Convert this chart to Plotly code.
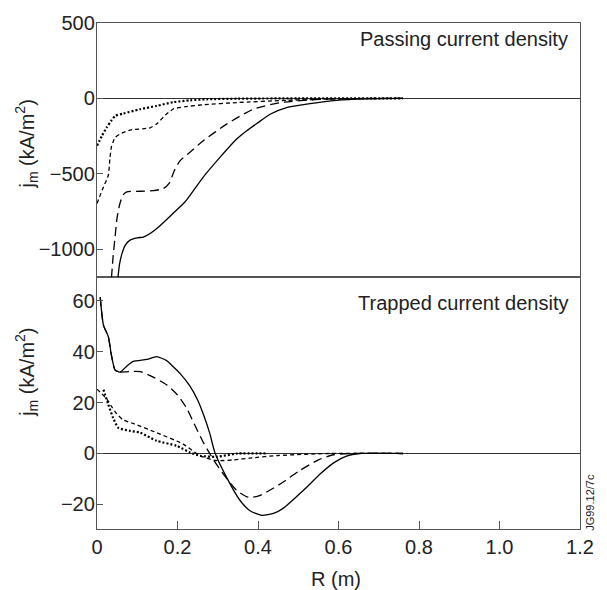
import plotly.graph_objects as go

# ---------------- data ----------------
# Passing current density (top panel), kA/m^2
pass_solid_r = [0.052, 0.056, 0.062, 0.070, 0.082, 0.100, 0.115, 0.130, 0.150, 0.190, 0.219, 0.264, 0.306,
                0.347, 0.372, 0.397, 0.430, 0.471, 0.529, 0.595, 0.661, 0.76]
pass_solid_j = [-1190, -1100, -1030, -975, -940, -925, -920, -900, -860, -760, -686, -522, -390,
                -270, -215, -167, -105, -61, -35, -13, -3, 0]

pass_ldash_r = [0.036, 0.040, 0.045, 0.050, 0.057, 0.065, 0.074, 0.107, 0.140, 0.165, 0.180, 0.192, 0.206,
                0.231, 0.264, 0.322, 0.388, 0.455, 0.554, 0.650, 0.76]
pass_ldash_j = [-1190, -1050, -917, -790, -697, -640, -620, -616, -612, -598, -560, -480, -415,
                -357, -281, -171, -72, -28, -7, -1, 0]

pass_sdash_r = [0.0, 0.016, 0.028, 0.032, 0.036, 0.045, 0.057, 0.082, 0.132, 0.150, 0.170, 0.190, 0.220,
                0.264, 0.347, 0.471, 0.600, 0.76]
pass_sdash_j = [-697, -588, -511, -400, -320, -260, -237, -210, -195, -165, -110, -70, -55,
                -42, -28, -13, -3, 0]

pass_dot_r = [0.0, 0.012, 0.024, 0.035, 0.045, 0.065, 0.107, 0.148, 0.190, 0.231, 0.272, 0.350, 0.500, 0.76]
pass_dot_j = [-314, -250, -193, -150, -116, -101, -72, -50, -25, -13, -6, -2, 0, 0]

# Trapped current density (bottom panel), kA/m^2
trap_solid_r = [0.008, 0.016, 0.028, 0.036, 0.045, 0.057, 0.075, 0.090, 0.124, 0.148, 0.173, 0.190, 0.206,
                0.231, 0.250, 0.264, 0.280, 0.293, 0.322, 0.355, 0.380, 0.409, 0.440, 0.463, 0.490,
                0.521, 0.555, 0.587, 0.620, 0.653, 0.76]
trap_solid_j = [61.5, 50.5, 46.0, 38.5, 32.8, 32.0, 34.5, 36.2, 37.0, 38.1, 36.5, 34.0, 31.5,
                26.5, 21.0, 15.5, 8.0, 0.3, -9.4, -18.4, -22.5, -24.3, -23.5, -21.5, -17.8,
                -13.3, -8.0, -3.8, -1.0, 0.0, 0.0]

trap_ldash_r = [0.057, 0.080, 0.107, 0.140, 0.173, 0.200, 0.222, 0.245, 0.262, 0.280, 0.300, 0.322, 0.347,
                0.376, 0.400, 0.421, 0.460, 0.504, 0.550, 0.587, 0.630, 0.76]
trap_ldash_j = [32.0, 32.2, 32.2, 30.0, 27.0, 23.0, 18.0, 10.5, 5.0, 0.0, -5.0, -9.8, -14.5,
                -17.2, -16.8, -15.2, -11.5, -6.7, -2.5, -0.5, 0.0, 0.0]

trap_sdash_r = [0.0, 0.012, 0.024, 0.036, 0.049, 0.065, 0.090, 0.148, 0.214, 0.256, 0.297, 0.340, 0.380,
                0.450, 0.580, 0.76]
trap_sdash_j = [25.3, 23.5, 21.5, 18.5, 15.6, 13.2, 11.8, 8.2, 3.7, -0.9, -2.8, -2.5, -1.8,
                -0.8, 0.0, 0.0]

trap_dot_r = [0.016, 0.028, 0.040, 0.053, 0.082, 0.107, 0.148, 0.198, 0.231, 0.256, 0.297, 0.350, 0.42]
trap_dot_j = [25.1, 19.3, 14.0, 10.1, 8.9, 8.2, 5.0, 3.0, 0.4, -0.9, -1.3, 0.0, 0.0]

x_ticks = [0, 0.2, 0.4, 0.6, 0.8, 1.0, 1.2]
x_ticklabels = ["0", "0.2", "0.4", "0.6", "0.8", "1.0", "1.2"]
top_yticks = [-1000, -500, 0, 500]
bot_yticks = [-20, 0, 20, 40, 60]

# ---------------- styling ----------------
FONT = "Liberation Sans, Arial, sans-serif"
TXT = "#222222"
FRAME = "#555555"
LW = 1.3

styles = {
    "solid": dict(color="black", width=LW, dash="solid"),
    "ldash": dict(color="black", width=LW, dash="9px,5px"),
    "sdash": dict(color="black", width=LW, dash="4px,3px"),
    "dot": dict(color="black", width=2.2, dash="2px,2px"),
}

fig = go.Figure()

def add(r, j, style, panel):
    ax = dict(xaxis="x2", yaxis="y2") if panel == "top" else dict(xaxis="x", yaxis="y")
    fig.add_trace(go.Scatter(x=r, y=j, mode="lines", line=dict(shape="spline", smoothing=0.6, **styles[style]),
                             showlegend=False, hoverinfo="skip", **ax))

add(pass_solid_r, pass_solid_j, "solid", "top")
add(pass_ldash_r, pass_ldash_j, "ldash", "top")
add(pass_sdash_r, pass_sdash_j, "sdash", "top")
add(pass_dot_r, pass_dot_j, "dot", "top")

add(trap_solid_r, trap_solid_j, "solid", "bot")
add(trap_solid_r[:6], trap_solid_j[:6], "ldash", "bot")
add(trap_ldash_r, trap_ldash_j, "ldash", "bot")
add(trap_sdash_r, trap_sdash_j, "sdash", "bot")
add(trap_dot_r, trap_dot_j, "dot", "bot")

split = 0.498
tickfont = dict(family=FONT, size=20, color=TXT)
common_x = dict(range=[0, 1.2], showgrid=False, zeroline=False, showline=True, mirror=True,
                linecolor=FRAME, linewidth=1.3)
common_y = dict(showgrid=False, zeroline=True, zerolinecolor="#333333", zerolinewidth=1.2,
                showline=True, mirror=True, linecolor=FRAME, linewidth=1.3,
                ticks="inside", ticklen=6, tickcolor=FRAME, tickwidth=1.2, tickfont=tickfont,
                ticklabelstandoff=-3)

fig.update_layout(
    width=607, height=590,
    margin=dict(l=97, r=27, t=17, b=61),
    paper_bgcolor="white", plot_bgcolor="white",
    font=dict(family=FONT, color=TXT),
    xaxis=dict(domain=[0, 1], anchor="y", tickvals=x_ticks, ticktext=x_ticklabels,
               ticks="inside", ticklen=8, tickcolor=FRAME, tickwidth=1.2, tickfont=tickfont, **common_x),
    xaxis2=dict(domain=[0, 1], anchor="y2", matches="x", showticklabels=False, ticks="", **common_x),
    yaxis=dict(domain=[0, split], anchor="x", range=[-29.7, 69.4], tickvals=bot_yticks, **common_y),
    yaxis2=dict(domain=[split, 1], anchor="x2", range=[-1185, 500], tickvals=top_yticks, **common_y),
)

annots = [
    dict(text="Passing current density", x=(570 - 97) / 483, y=(529 - 33) / 512,
         xanchor="right", yanchor="middle", font=dict(size=20)),
    dict(text="Trapped current density", x=(570 - 97) / 483, y=(529 - 300) / 512,
         xanchor="right", yanchor="middle", font=dict(size=20)),
    dict(text="j<sub>m</sub> (kA/m<sup>2</sup>)", x=(27 - 97) / 483, y=(529 - 140) / 512,
         xanchor="center", yanchor="middle", textangle=-90, font=dict(size=20)),
    dict(text="j<sub>m</sub> (kA/m<sup>2</sup>)", x=(27 - 97) / 483, y=(529 - 371) / 512,
         xanchor="center", yanchor="middle", textangle=-90, font=dict(size=20)),
    dict(text="R (m)", x=(336 - 97) / 483, y=(529 - 580) / 512,
         xanchor="center", yanchor="middle", font=dict(size=20)),
    dict(text="JG99.12/7c", x=(590.5 - 97) / 483, y=(529 - 502) / 512,
         xanchor="center", yanchor="middle", textangle=-90, font=dict(size=11)),
]
for a in annots:
    a.update(xref="paper", yref="paper", showarrow=False)
    a["font"].update(family=FONT, color=TXT)
    fig.add_annotation(**a)

fig.write_html("out.html")
